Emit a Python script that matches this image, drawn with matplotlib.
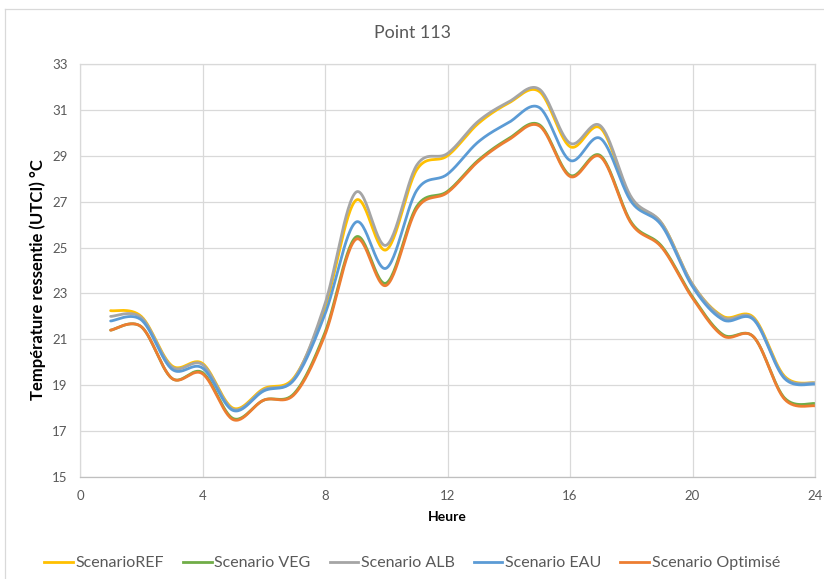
import numpy as np
import matplotlib
matplotlib.use("Agg")
import matplotlib.pyplot as plt
from matplotlib.lines import Line2D

hours = list(range(1, 25))
series_names = ["ScenarioREF", "Scenario VEG", "Scenario ALB", "Scenario EAU", "Scenario Optimisé"]
ref = [22.25, 22.0, 19.85, 19.95, 18.0, 18.85, 19.35, 22.4, 27.05, 24.9, 28.4, 29.0,
       30.4, 31.3, 31.8, 29.4, 30.2, 27.1, 26.05, 23.4, 22.0, 21.95, 19.4, 19.1]
veg = [21.4, 21.55, 19.3, 19.55, 17.55, 18.35, 18.65, 21.3, 25.45, 23.45, 26.8, 27.45,
       28.8, 29.75, 30.35, 28.15, 29.0, 26.1, 25.05, 22.85, 21.2, 21.1, 18.45, 18.2]
alb = [22.0, 21.95, 19.8, 19.9, 17.95, 18.8, 19.3, 22.55, 27.4, 25.1, 28.6, 29.1,
       30.5, 31.35, 31.9, 29.55, 30.3, 27.2, 26.05, 23.4, 21.95, 21.9, 19.35, 19.1]
eau = [21.8, 21.85, 19.7, 19.75, 17.9, 18.75, 19.25, 22.1, 26.1, 24.1, 27.5, 28.2,
       29.6, 30.45, 31.1, 28.8, 29.75, 27.0, 25.95, 23.3, 21.85, 21.85, 19.3, 19.05]
opt = [21.4, 21.55, 19.3, 19.5, 17.5, 18.35, 18.6, 21.2, 25.35, 23.35, 26.7, 27.4,
       28.75, 29.7, 30.3, 28.1, 28.95, 26.05, 25.0, 22.8, 21.15, 21.1, 18.4, 18.1]
all_series = [ref, veg, alb, eau, opt]
colors = ["#FFC000", "#70AD47", "#A5A5A5", "#5B9BD5", "#ED7D31"]
x_ticks = [0, 4, 8, 12, 16, 20, 24]
y_ticks = [15, 17, 19, 21, 23, 25, 27, 29, 31, 33]


def smooth(x, y, n=30):
    """Excel-like smoothed line (Catmull-Rom Bezier)."""
    x = np.asarray(x, float)
    y = np.asarray(y, float)
    px = np.concatenate([[x[0]], x, [x[-1]]])
    py = np.concatenate([[y[0]], y, [y[-1]]])
    xs, ys = [], []
    t = np.linspace(0, 1, n)
    for i in range(1, len(px) - 2):
        p0 = np.array([px[i], py[i]])
        p3 = np.array([px[i + 1], py[i + 1]])
        c1 = p0 + (np.array([px[i + 1], py[i + 1]]) - np.array([px[i - 1], py[i - 1]])) / 6
        c2 = p3 - (np.array([px[i + 2], py[i + 2]]) - np.array([px[i], py[i]])) / 6
        b = ((1 - t) ** 3)[:, None] * p0 + (3 * (1 - t) ** 2 * t)[:, None] * c1 + \
            (3 * (1 - t) * t ** 2)[:, None] * c2 + (t ** 3)[:, None] * p3
        xs.extend(b[:, 0])
        ys.extend(b[:, 1])
    return np.array(xs), np.array(ys)


plt.rcParams['font.family'] = ['Lato', 'DejaVu Sans']
fig = plt.figure(figsize=(8.24, 5.79), dpi=100)
ax = fig.add_axes([80 / 824, 1 - 477 / 579, (815 - 80) / 824, (477 - 64) / 579])

for vals, c, name in zip(all_series, colors, series_names):
    sx, sy = smooth(hours, vals)
    ax.plot(sx, sy, color=c, lw=2.0, label=name, solid_capstyle='round')

ax.set_xlim(0, 24)
ax.set_ylim(15, 33)
ax.set_xticks(x_ticks)
ax.set_yticks(y_ticks)
ax.grid(True, color="#D9D9D9", lw=0.9)
ax.set_axisbelow(True)
ax.tick_params(length=0, labelsize=9.5, colors="#595959", pad=9)
for s in ax.spines.values():
    s.set_color("#D9D9D9")
    s.set_linewidth(0.9)
ax.spines['bottom'].set_color("#BFBFBF")

ax.set_xlabel("Heure", fontsize=10, fontweight='bold', color="#000000", labelpad=7)
fig.text(38 / 824, 1 - 280 / 579, "Température ressentie (UTCI) °C", rotation=90,
         ha='center', va='center', fontsize=12, fontweight='bold', color="#000000")
fig.text(0.5, 1 - 33 / 579, "Point 113", ha='center', va='center', fontsize=12.8,
         color="#595959")

handles = [Line2D([0], [0], color=c, lw=2.0) for c in colors]
fig.legend(handles, series_names, loc='center', bbox_to_anchor=(0.5, 1 - 563 / 579),
           ncol=5, frameon=False, fontsize=11.5, handlelength=1.8, handletextpad=0.15,
           columnspacing=1.2, labelcolor="#595959")

# chart area border
fig.add_artist(Line2D([5 / 824, 5 / 824], [0, 1 - 9 / 579], color="#D9D9D9", lw=0.9,
                      transform=fig.transFigure))
fig.add_artist(Line2D([5 / 824, 1], [1 - 9 / 579, 1 - 9 / 579], color="#D9D9D9", lw=0.9,
                      transform=fig.transFigure))

fig.savefig("out.png", dpi=100)
